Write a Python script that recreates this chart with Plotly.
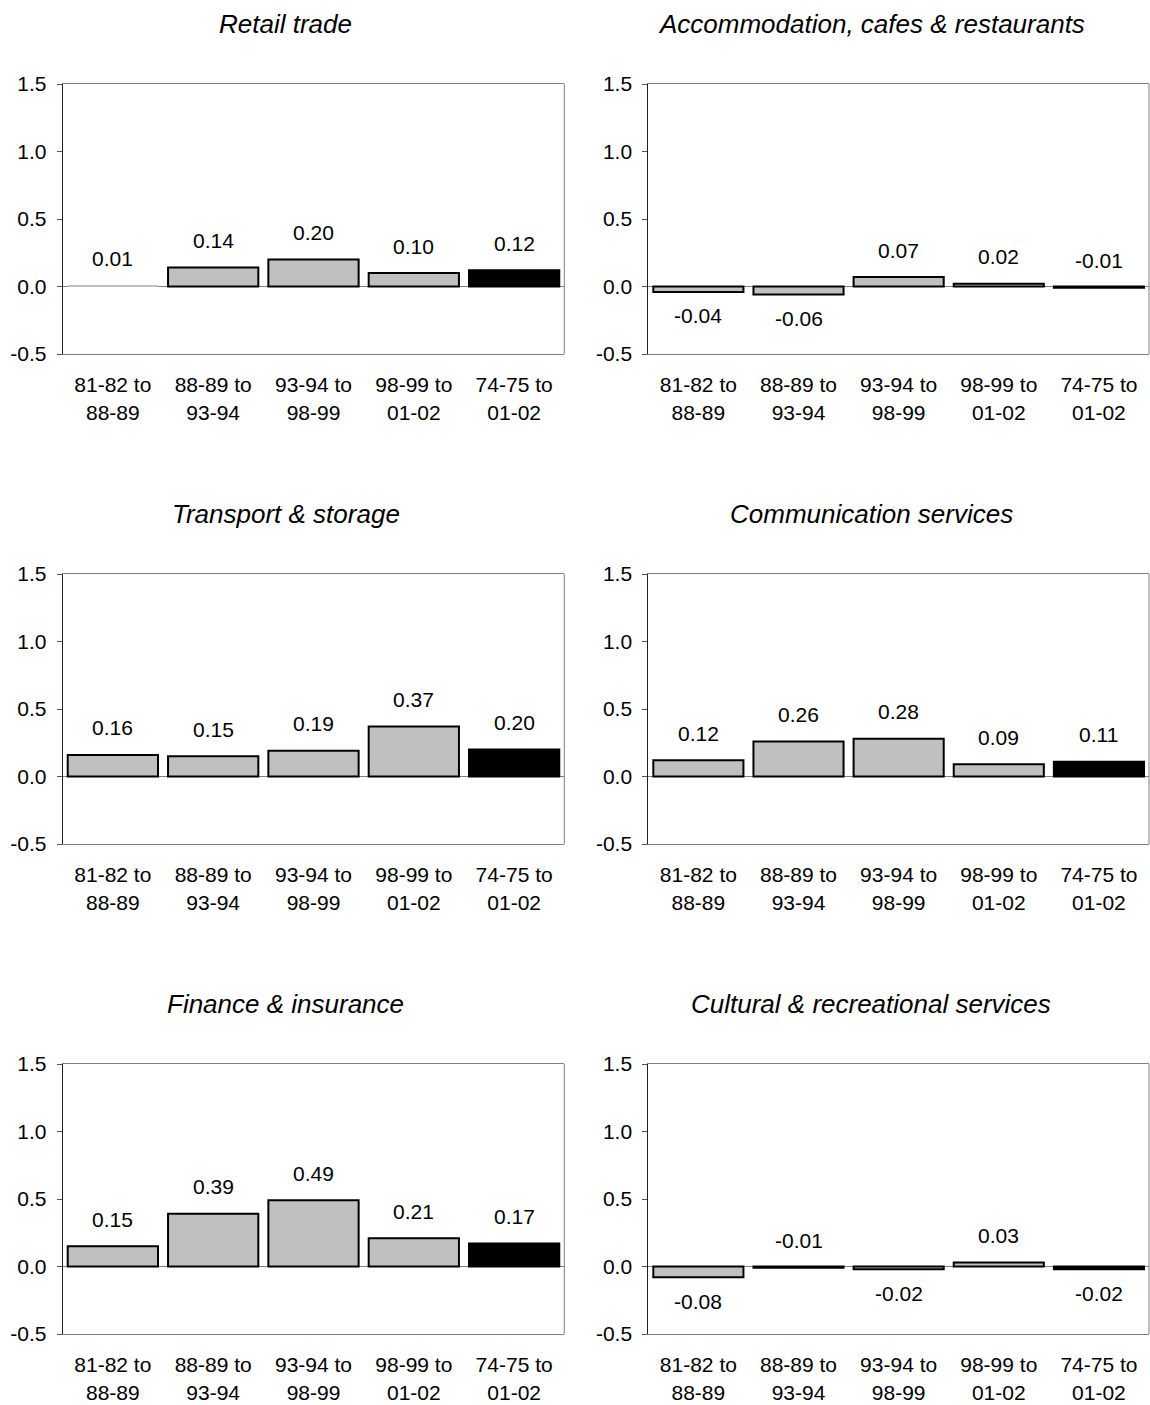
import plotly.graph_objects as go

periods = ["81-82 to<br>88-89", "88-89 to<br>93-94", "93-94 to<br>98-99",
           "98-99 to<br>01-02", "74-75 to<br>01-02"]

titles = ["Retail trade", "Accommodation, cafes & restaurants",
          "Transport & storage", "Communication services",
          "Finance & insurance", "Cultural & recreational services"]

y_tick_vals = [-0.5, 0.0, 0.5, 1.0, 1.5]
y_tick_text = ["-0.5", "0.0", "0.5", "1.0", "1.5"]

retail = [0.01, 0.14, 0.20, 0.10, 0.12]
accommodation = [-0.04, -0.06, 0.07, 0.02, -0.01]
transport = [0.16, 0.15, 0.19, 0.37, 0.20]
communication = [0.12, 0.26, 0.28, 0.09, 0.11]
finance = [0.15, 0.39, 0.49, 0.21, 0.17]
cultural = [-0.08, -0.01, -0.02, 0.03, -0.02]

series = [retail, accommodation, transport, communication, finance, cultural]

# label side per bar (1 = above, -1 = below)
label_side = [
    [1, 1, 1, 1, 1],
    [-1, -1, 1, 1, 1],
    [1, 1, 1, 1, 1],
    [1, 1, 1, 1, 1],
    [1, 1, 1, 1, 1],
    [-1, 1, -1, 1, -1],
]
# outline widths (the tiny retail bar is not outlined in the original)
outline_w = [
    [0, 2, 2, 2, 2],
    [2, 2, 2, 2, 2],
    [2, 2, 2, 2, 2],
    [2, 2, 2, 2, 2],
    [2, 2, 2, 2, 2],
    [2, 2, 2, 2, 2],
]

W, H = 1150, 1405
FONT = "Liberation Sans, Arial, sans-serif"
FS = 21
TFS = 26

col_px = [(62.7, 564.3), (648.3, 1149.0)]
row_px = [(84, 354), (574, 844), (1064, 1334)]
title_x_px = [285.6, 871.0]
title_y_px = [24, 514, 1004]

bar_colors = ["#C0C0C0", "#C0C0C0", "#C0C0C0", "#C0C0C0", "#000000"]

fig = go.Figure()
annotations = []
shapes = []
layout = {}

for i, vals in enumerate(series):
    r, c = divmod(i, 2)
    n = i + 1
    xa = "x" if n == 1 else f"x{n}"
    ya = "y" if n == 1 else f"y{n}"
    fig.add_trace(go.Bar(
        x=periods, y=vals, xaxis=xa, yaxis=ya,
        marker=dict(color=bar_colors, line=dict(color="black", width=outline_w[i])),
        showlegend=False, hoverinfo="skip",
    ))
    x0, x1 = col_px[c]
    y0, y1 = row_px[r]
    layout[f"xaxis{n if n > 1 else ''}"] = dict(
        domain=[x0 / W, x1 / W], anchor=ya, type="category",
        range=[-0.5, 4.5], showline=True, linecolor="#808080", linewidth=1,
        mirror=True, ticks="", showgrid=False, zeroline=False,
        tickfont=dict(family=FONT, size=FS, color="black"),
        ticklabelstandoff=12, fixedrange=True, automargin=False,
    )
    layout[f"yaxis{n if n > 1 else ''}"] = dict(
        domain=[1 - y1 / H, 1 - y0 / H], anchor=xa,
        range=[-0.5, 1.5], tickvals=y_tick_vals, ticktext=y_tick_text,
        showline=True, linecolor="#222222", linewidth=1,
        ticks="outside", ticklen=5, tickcolor="#555555",
        showgrid=False, zeroline=True, zerolinecolor="#808080", zerolinewidth=1,
        tickfont=dict(family=FONT, size=FS, color="black"),
        ticklabelstandoff=6, fixedrange=True, automargin=False,
    )
    shapes.append(dict(type="line", xref=f"{xa} domain", yref=f"{ya} domain",
                       x0=1, x1=1, y0=0, y1=1,
                       line=dict(color="#808080", width=1)))
    for j, v in enumerate(vals):
        s = label_side[i][j]
        annotations.append(dict(
            x=periods[j], y=v, xref=xa, yref=ya, text=f"{v:.2f}",
            showarrow=False, yanchor="middle", xanchor="center",
            yshift=27 if s > 0 else -24,
            font=dict(family=FONT, size=FS, color="black"),
        ))
    annotations.append(dict(
        x=title_x_px[c] / W, y=1 - title_y_px[r] / H, xref="paper", yref="paper",
        text=f"<i>{titles[i]}</i>", showarrow=False,
        xanchor="center", yanchor="middle",
        font=dict(family=FONT, size=TFS, color="black"),
    ))

fig.update_layout(
    width=W, height=H, margin=dict(l=0, r=0, t=0, b=0, autoexpand=False),
    paper_bgcolor="white", plot_bgcolor="white",
    bargap=0.1, annotations=annotations, shapes=shapes,
    **layout,
)

fig.write_html("out.html")
